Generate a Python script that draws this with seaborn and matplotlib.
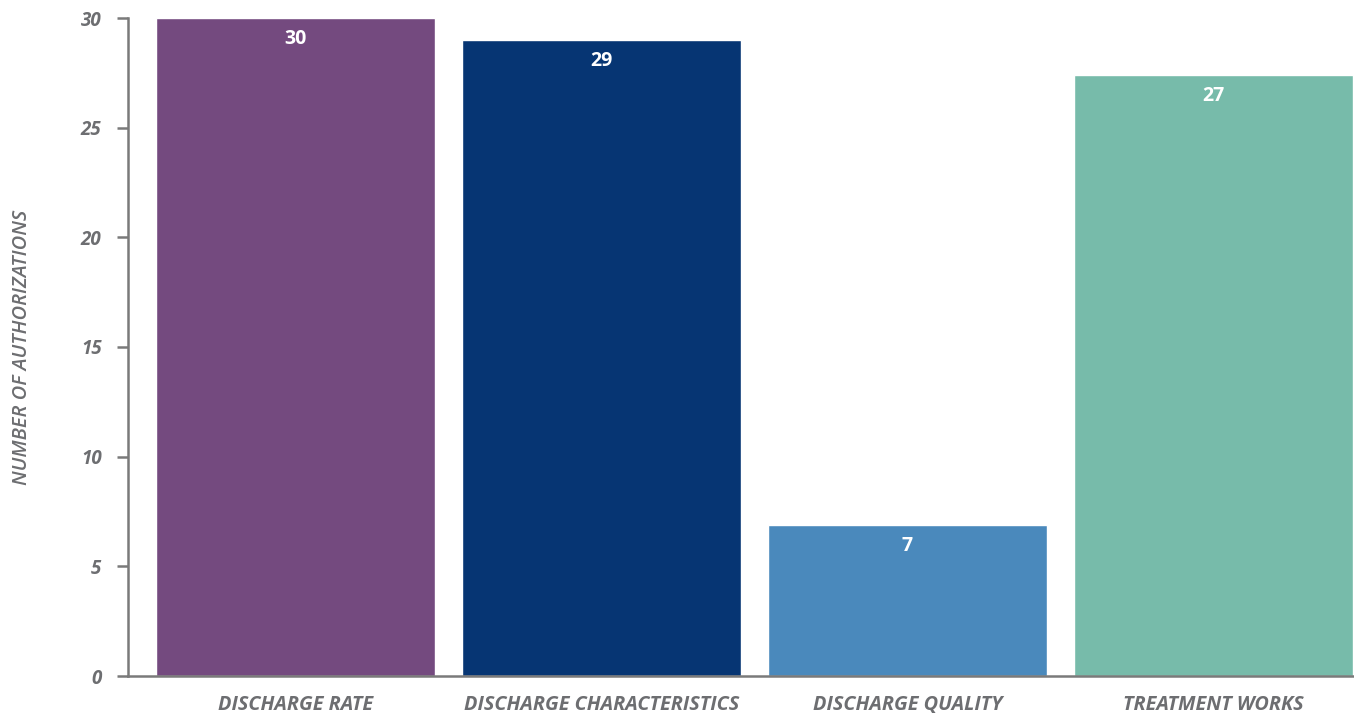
import pandas as pd
import numpy as np
import matplotlib.pyplot as plt
import seaborn as sns

# data
categories = ['DISCHARGE RATE', 'DISCHARGE CHARACTERISTICS', 'DISCHARGE QUALITY', 'TREATMENT WORKS']
heights = [30, 29, 6.9, 27.4]
value_labels = ['30', '29', '7', '27']
colors = ['#744a7f', '#063573', '#4a89bc', '#77bbaa']

df = pd.DataFrame({'category': categories, 'count': heights})

sns.set_theme(style='white')
plt.rcParams['font.family'] = ['Open Sans', 'DejaVu Sans']

fig = plt.figure(figsize=(13.54, 7.15), dpi=100)
ax = fig.add_axes([128 / 1354, 39 / 715, 1 - 128 / 1354, (676 - 18) / 715])

sns.barplot(data=df, x='category', y='count', hue='category', palette=colors,
            width=0.91, saturation=1, legend=False, ax=ax)

# value labels inside the bars
for i, (h, lab) in enumerate(zip(heights, value_labels)):
    ax.annotate(lab, (i, h), xytext=(0, -21), textcoords='offset pixels',
                ha='center', va='center', color='white', fontsize=14,
                fontweight='bold')

ax.set_ylim(0, 30)
ax.set_xlim(-0.547, 3.459)
ax.set_yticks(range(0, 31, 5))

grey = '#6d6e71'
for s in ['top', 'right']:
    ax.spines[s].set_visible(False)
for s in ['left', 'bottom']:
    ax.spines[s].set_color('#7a7a7a')
    ax.spines[s].set_linewidth(1.8)
ax.spines['left'].set_bounds(0, 30)

ax.tick_params(axis='y', left=True, length=8, width=1.8, color='#7a7a7a', pad=11,
               labelsize=13.5, labelcolor=grey)
ax.tick_params(axis='x', length=0, pad=14, labelsize=14.3, labelcolor=grey)
for t in ax.get_xticklabels() + ax.get_yticklabels():
    t.set_fontstyle('italic')
    t.set_fontweight('bold')

ax.set_xlabel('')
ax.set_ylabel('NUMBER OF AUTHORIZATIONS', fontsize=14.5, color=grey,
              fontstyle='italic', fontweight='semibold')
ax.yaxis.set_label_coords(-0.078, 0.5)

fig.savefig('out.png', dpi=100)
